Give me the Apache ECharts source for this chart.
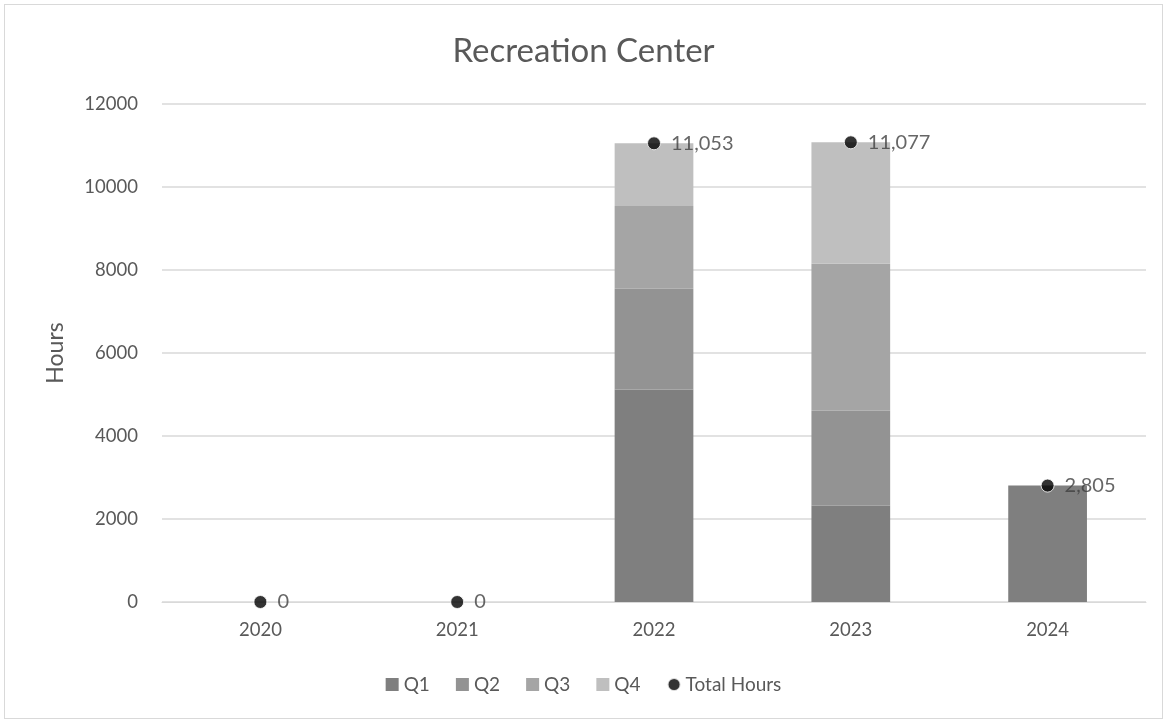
<!DOCTYPE html>
<html>
<head>
<meta charset="utf-8">
<script src="https://cdn.jsdelivr.net/npm/echarts@6/dist/echarts.min.js"></script>
<style>
  html, body { margin: 0; padding: 0; background: #fff; }
  .frame {
    position: absolute; left: 4px; top: 4px;
    width: 1157px; height: 713px;
    border: 1px solid #d9d9d9;
  }
  #chart { position: absolute; left: 0; top: 0; width: 1167px; height: 723px; }
</style>
</head>
<body>
<div class="frame"></div>
<div id="chart"></div>
<script>
const years = ['2020', '2021', '2022', '2023', '2024']
const q1 = [0, 0, 5120, 2320, 2805]
const q2 = [0, 0, 2430, 2290, 0]
const q3 = [0, 0, 1990, 3540, 0]
const q4 = [0, 0, 1513, 2927, 0]
const totalHours = [0, 0, 11053, 11077, 2805]
const yTicks = [0, 2000, 4000, 6000, 8000, 10000, 12000]

const font = 'Lato, "Open Sans", sans-serif'
const textColor = '#595959'

// stacked quarter bars
function quarter(name, data, color) {
  return {
    name: name,
    type: 'bar',
    stack: 'q',
    barWidth: '40%',
    data: data,
    itemStyle: { color: color },
    emphasis: { disabled: true }
  }
}

const chart = echarts.init(document.getElementById('chart'))
chart.setOption({
  textStyle: { fontFamily: font },
  animation: false,
  title: {
    text: 'Recreation Center',
    left: 'center',
    top: 30,
    textStyle: { fontFamily: font, fontSize: 33, fontWeight: 'normal', color: textColor }
  },
  legend: {
    bottom: 24,
    left: 'center',
    itemWidth: 13,
    itemHeight: 13,
    itemGap: 26,
    textStyle: { fontFamily: font, fontSize: 19, color: textColor },
    data: [
      { name: 'Q1', icon: 'rect' },
      { name: 'Q2', icon: 'rect' },
      { name: 'Q3', icon: 'rect' },
      { name: 'Q4', icon: 'rect' },
      { name: 'Total Hours', icon: 'circle' }
    ]
  },
  grid: { left: 162, right: 21, top: 104, bottom: 121 },
  xAxis: {
    type: 'category',
    data: years,
    axisLine: { lineStyle: { color: '#d9d9d9' } },
    axisTick: { show: false },
    axisLabel: { fontSize: 18.5, color: textColor, margin: 19 }
  },
  yAxis: {
    type: 'value',
    min: yTicks[0],
    max: yTicks[yTicks.length - 1],
    interval: 2000,
    name: 'Hours',
    nameLocation: 'middle',
    nameGap: 95,
    nameTextStyle: { fontSize: 23, color: textColor },
    axisLine: { show: false },
    axisTick: { show: false },
    axisLabel: { fontSize: 18.5, color: textColor, margin: 24, formatter: v => String(v) },
    splitLine: { lineStyle: { color: '#d9d9d9', width: 1.5 } }
  },
  series: [
    quarter('Q1', q1, '#7f7f7f'),
    quarter('Q2', q2, '#939393'),
    quarter('Q3', q3, '#a5a5a5'),
    quarter('Q4', q4, '#bfbfbf'),
    {
      name: 'Total Hours',
      type: 'scatter',
      data: totalHours,
      symbolSize: 13,
      itemStyle: { color: '#000', borderColor: '#fff', borderWidth: 1 },
      label: {
        show: true,
        position: 'right',
        distance: 10,
        fontSize: 20,
        color: '#404040',
        formatter: p => p.value.toLocaleString('en-US')
      },
      z: 5
    }
  ]
})
</script>
</body>
</html>
